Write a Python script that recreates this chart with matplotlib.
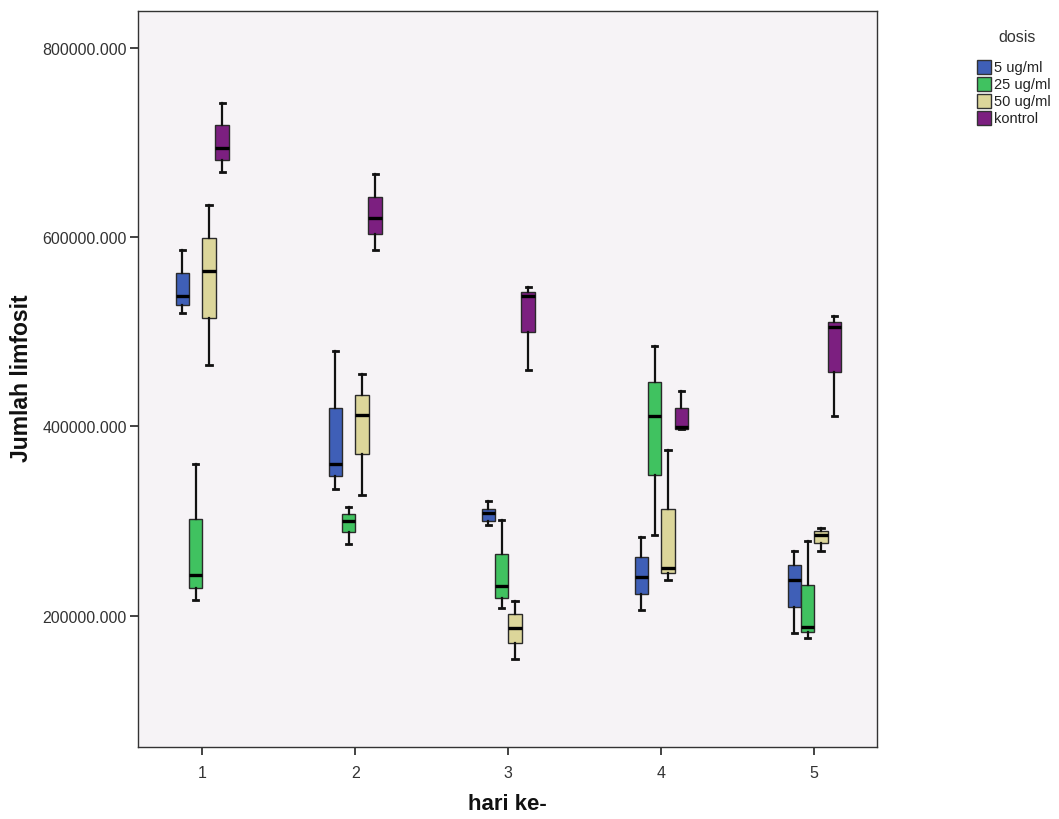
#!/usr/bin/env python3
# -*- coding: utf-8 -*-
"""Grouped boxplot: Jumlah limfosit per hari, by dosis."""

import numpy as np
import matplotlib
matplotlib.use("Agg")
import matplotlib.pyplot as plt
from matplotlib.patches import Rectangle

# ---- data ----
days = [1, 2, 3, 4, 5]
doses = ["5 ug/ml", "25 ug/ml", "50 ug/ml", "kontrol"]
colors = ["#3F5FB7", "#40C260", "#DCD69A", "#7C1F80"]

# each row: whislo, q1, median, q3, whishi  (one row per day)
dose_5 = [
    [519500, 528200, 537400, 562300, 586600],
    [333300, 347400, 360400, 419600, 479700],
    [295300, 299900, 308400, 312900, 320600],
    [205600, 223200, 240800, 262000, 283000],
    [181000, 209200, 238000, 253100, 267900],
]
dose_25 = [
    [216100, 229200, 243300, 301600, 360400],
    [275300, 288300, 299500, 306900, 314700],
    [208100, 219000, 231300, 265400, 300600],
    [285500, 348100, 410800, 446600, 484600],
    [176500, 182800, 188100, 232700, 278400],
]
dose_50 = [
    [464900, 514200, 564400, 599300, 633800],
    [327700, 371000, 412400, 433500, 454900],
    [153600, 170500, 186300, 201100, 215500],
    [238000, 245400, 250300, 312900, 374500],
    [267900, 277000, 284700, 289000, 292600],
]
kontrol = [
    [669000, 681600, 693900, 718200, 741400],
    [586600, 603200, 619700, 642900, 666500],
    [460000, 499400, 537400, 542300, 546900],
    [397400, 397400, 399200, 419200, 437200],
    [410400, 457900, 504700, 510600, 516900],
]
series = [dose_5, dose_25, dose_50, kontrol]
yticks = [200000, 400000, 600000, 800000]

W, H = 1059, 820
fig = plt.figure(figsize=(W / 100, H / 100), dpi=100)
ax = fig.add_axes([138 / W, 1 - 748 / H, (877 - 138) / W, (748 - 12) / H])
ax.set_facecolor("#F6F3F6")

step = 0.087
width = 0.088
for k, (rows, col) in enumerate(zip(series, colors)):
    stats = []
    for r in rows:
        stats.append(dict(whislo=r[0], q1=r[1], med=r[2], q3=r[3], whishi=r[4], fliers=[]))
    pos = [d + (k - 1.5) * step for d in days]
    ax.bxp(stats, positions=pos, widths=width, capwidths=0.035,
           showfliers=False, patch_artist=True, manage_ticks=False,
           boxprops=dict(facecolor=col, edgecolor="#2A2A2A", linewidth=1.0),
           medianprops=dict(color="black", linewidth=2.4),
           whiskerprops=dict(color="#111111", linewidth=1.6),
           capprops=dict(color="#111111", linewidth=2.0))

ax.set_xlim(0.58, 5.41)
ax.set_ylim(61000, 839000)
ax.set_xticks(days)
ax.set_xticklabels([str(d) for d in days])
ax.set_yticks(yticks)
ax.set_yticklabels([f"{v:.3f}" for v in yticks])
ax.tick_params(axis="both", length=6, width=1.2, color="#222222",
               labelsize=11.5, labelcolor="#333333", pad=2)
ax.tick_params(axis="x", pad=7)
for s in ax.spines.values():
    s.set_color("#333333")
    s.set_linewidth(1.0)

narrow = ["Liberation Sans Narrow", "Liberation Sans", "DejaVu Sans"]
for lab in ax.get_xticklabels() + ax.get_yticklabels():
    lab.set_family(["Liberation Sans", "DejaVu Sans"])

fig.text(22 / W, 1 - 378 / H, "Jumlah limfosit", rotation=90, ha="center", va="center",
         fontsize=16.5, fontweight="bold", family=narrow, color="#111111")
fig.text(507 / W, 1 - 805 / H, "hari ke-", ha="center", va="center",
         fontsize=16, fontweight="bold", family=narrow, color="#111111")

# legend drawn by hand to sit like the original
fig.text(1017 / W, 1 - 37 / H, "dosis", ha="center", va="center", fontsize=11.5,
         family=["Liberation Sans", "DejaVu Sans"], color="#333333")
for i, (name, col) in enumerate(zip(doses, colors)):
    yc = 68 + i * 17
    fig.patches.append(Rectangle((977 / W, 1 - (yc + 7) / H), 14 / W, 14 / H,
                                 transform=fig.transFigure, facecolor=col,
                                 edgecolor="#333333", linewidth=1.0))
    fig.text(994 / W, 1 - yc / H, name, ha="left", va="center", fontsize=10.5,
             family=["Liberation Sans", "DejaVu Sans"], color="#222222")

fig.savefig("out.png", dpi=100)
